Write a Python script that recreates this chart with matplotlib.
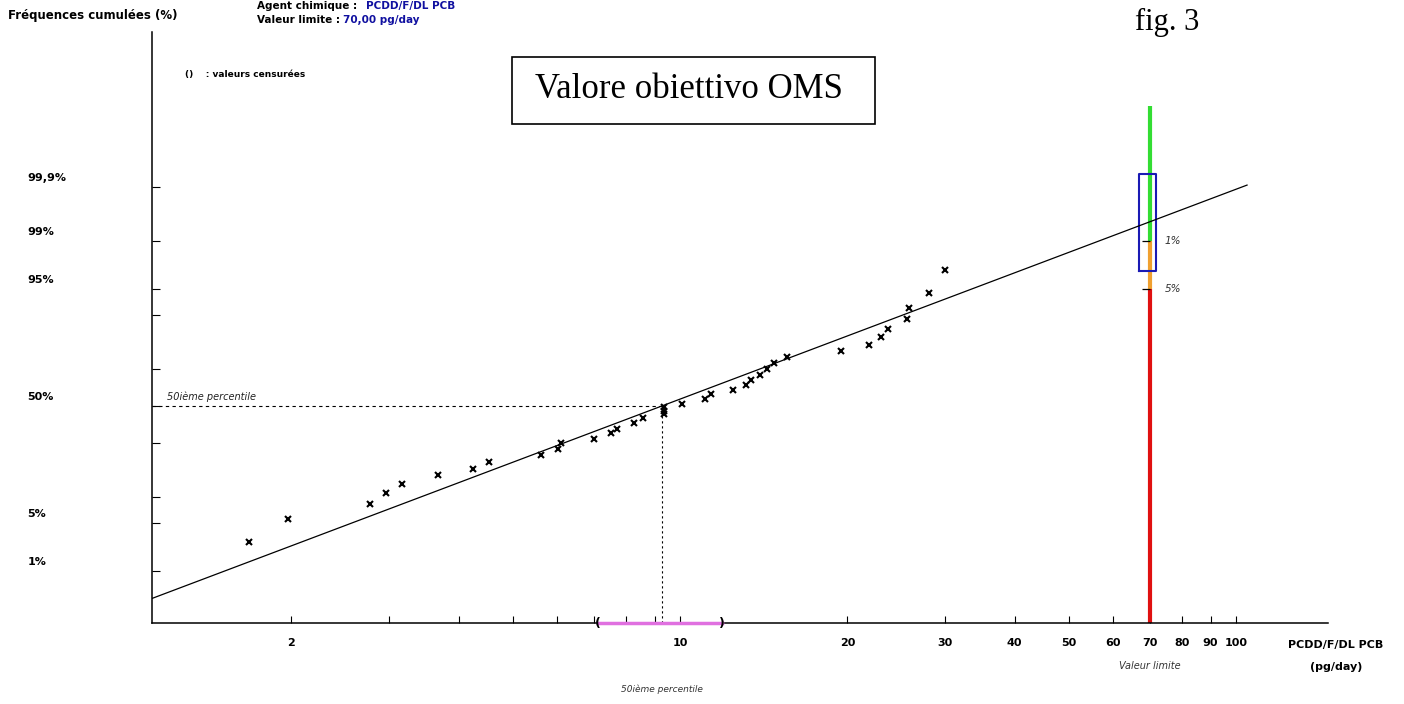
import matplotlib
matplotlib.use("Agg")
import matplotlib.pyplot as plt
import matplotlib.transforms as mtransforms
from matplotlib.patches import Rectangle
from matplotlib.ticker import NullLocator
import numpy as np
from statistics import NormalDist

# measured exposures (pg/day), sorted
conc = [1.68, 1.975, 2.77, 2.96, 3.16, 3.67, 4.24, 4.53, 5.62, 6.03, 6.11, 7.01,
        7.51, 7.70, 8.28, 8.59, 9.36, 9.36, 9.36, 10.08, 11.08, 11.37, 12.44,
        13.13, 13.40, 13.93, 14.36, 14.74, 15.56, 19.45, 21.88, 22.97, 23.66,
        25.60, 25.78, 28.05, 29.93]
# cumulative frequencies (%)
freq = [2.8, 5.5, 8.3, 11.0, 13.5, 16.4, 18.7, 21.5, 24.5, 27.1, 29.9, 32.1,
        35.0, 37.4, 40.4, 43.3, 45.5, 47.4, 49.3, 51.1, 53.9, 56.7, 59.1, 61.8,
        64.5, 67.0, 70.1, 72.8, 75.4, 78.0, 80.6, 83.5, 86.1, 88.9, 91.7, 94.4,
        97.2]

# fitted lognormal
gm = 9.28
gsd = 2.178
fit_range = [1.123, 104.7]

# 50th percentile confidence interval
ci_50 = [7.12, 11.9]

# limit value and its colour bands (%)
limit = 70
band_edges = [0.111, 95, 99, 99.9988]
band_colors = ["#e01010", "#f0a030", "#33dd33"]
# exceedance box
box_x = [66.8, 71.8]
box_y = [97.18, 99.946]

xticks = [2, 3, 4, 5, 6, 7, 8, 9, 10, 20, 30, 40, 50, 60, 70, 80, 90, 100]
xlabels = ["2", "", "", "", "", "", "", "", "10", "20", "30", "40", "50",
           "60", "70", "80", "90", "100"]
yticks = [1, 5, 10, 30, 50, 70, 90, 95, 99, 99.9]
ylab_vals = [99.9, 99, 95, 50, 5, 1]
ylab_text = ["99,9%", "99%", "95%", "50%", "5%", "1%"]

nd = NormalDist()


def fwd(p):
    p = np.clip(np.asarray(p, dtype=float), 1e-10, 100 - 1e-10)
    return np.vectorize(lambda v: nd.inv_cdf(v / 100.0), otypes=[float])(p)


def inv(z):
    z = np.asarray(z, dtype=float)
    return np.vectorize(lambda v: nd.cdf(v) * 100.0, otypes=[float])(z)


fig = plt.figure(figsize=(14.04, 7.04), dpi=100)
ax = fig.add_axes([152 / 1404, 81 / 704, 1176 / 1404, 591 / 704])
ax.set_xscale("log")
ax.set_yscale("function", functions=(fwd, inv))
ax.set_xlim(1.123, 146.4)
ax.set_ylim(0.111, 99.9999932)

for s in ["top", "right"]:
    ax.spines[s].set_visible(False)
for s in ["left", "bottom"]:
    ax.spines[s].set_linewidth(1.1)

ax.set_xticks(xticks, xlabels)
ax.xaxis.set_minor_locator(NullLocator())
ax.tick_params(axis="x", direction="in", length=5, width=0.8, pad=11,
               labelsize=8)
for lab in ax.get_xticklabels():
    lab.set_fontweight("bold")
ax.set_yticks(yticks, [""] * len(yticks))
ax.yaxis.set_minor_locator(NullLocator())
ax.tick_params(axis="y", direction="in", length=6, width=0.8)

ytrans = mtransforms.offset_copy(ax.get_yaxis_transform(), fig=fig, x=0, y=9,
                                 units="dots")
for v, t in zip(ylab_vals, ylab_text):
    ax.text(-0.106, v, t, transform=ytrans, ha="left", va="center",
            fontsize=8, fontweight="bold")

# colored limit line
for i in range(3):
    ax.plot([limit, limit], [band_edges[i], band_edges[i + 1]],
            color=band_colors[i], lw=3, solid_capstyle="butt", zorder=2,
            clip_on=False)
ax.plot([limit, limit], [99, 95], ls="none", marker=0, ms=6, mew=0.9,
        color="black", zorder=3)
ax.plot([box_x[0], box_x[1], box_x[1], box_x[0], box_x[0]],
        [box_y[0], box_y[0], box_y[1], box_y[1], box_y[0]],
        color="#1a1ab4", lw=1.5, zorder=4)
ptrans = mtransforms.offset_copy(ax.transData, fig=fig, x=15, y=0, units="dots")
ax.text(limit, 99, "1%", transform=ptrans, ha="left", va="center",
        fontsize=7.5, style="italic", color="#333333")
ax.text(limit, 95, "5%", transform=ptrans, ha="left", va="center",
        fontsize=7.5, style="italic", color="#333333")

# fitted line
fx = np.array(fit_range)
fz = np.log10(fx / gm) / np.log10(gsd)
ax.plot(fx, inv(fz), color="black", lw=0.9, zorder=5)

# data
ax.plot(conc, freq, ls="none", marker="x", ms=4, mew=1.5, color="black",
        zorder=6)

# 50th percentile guides
ax.plot([1.123, gm], [50, 50], color="black", lw=0.8, ls=(0, (3, 3)))
ax.plot([gm, gm], [0.111, 50], color="black", lw=0.8, ls=(0, (2, 2.5)))
ltrans = mtransforms.offset_copy(ax.get_yaxis_transform(), fig=fig, x=15,
                                 y=9, units="dots")
ax.text(0, 50, "50ième percentile", transform=ltrans, ha="left",
        va="center", fontsize=7, style="italic", color="#222222")

# CI bar on the x axis
xtr = ax.get_xaxis_transform()
ax.plot(ci_50, [0, 0], transform=xtr, color="#e070e0", lw=2.5, clip_on=False,
        zorder=3)
ax.text(ci_50[0], 0, "(", transform=xtr, ha="center", va="center",
        fontsize=9, fontweight="bold")
ax.text(ci_50[1], 0, ")", transform=xtr, ha="center", va="center",
        fontsize=9, fontweight="bold")

# bottom texts
btr = mtransforms.blended_transform_factory(ax.transData, fig.transFigure)
ax.text(limit, 1 - 666 / 704, "Valeur limite", transform=btr, ha="center",
        va="center", fontsize=7, style="italic", color="#333333")
ax.text(gm, 1 - 689 / 704, "50ième percentile", transform=btr, ha="center",
        va="center", fontsize=6.5, style="italic", color="#333333")
fig.text(1336 / 1404, 1 - 645 / 704, "PCDD/F/DL PCB", ha="center",
         va="center", fontsize=8, fontweight="bold")
fig.text(1336 / 1404, 1 - 667 / 704, "(pg/day)", ha="center", va="center",
         fontsize=8, fontweight="bold")

# header texts
fig.text(8 / 1404, 1 - 16 / 704, "Fréquences cumulées (%)", ha="left",
         va="center", fontsize=8.5, fontweight="bold")
fig.text(257 / 1404, 1 - 1 / 704, "Agent chimique : ", ha="left",
         va="top", fontsize=7.5, fontweight="bold")
fig.text(366 / 1404, 1 - 1 / 704, "PCDD/F/DL PCB", ha="left", va="top",
         fontsize=7.5, fontweight="bold", color="#1010a0")
fig.text(257 / 1404, 1 - 20 / 704, "Valeur limite : ", ha="left",
         va="center", fontsize=7.5, fontweight="bold")
fig.text(343 / 1404, 1 - 20 / 704, "70,00 pg/day", ha="left", va="center",
         fontsize=7.5, fontweight="bold", color="#1010a0")
fig.text(185 / 1404, 1 - 75 / 704, "()    : valeurs censurées", ha="left",
         va="center", fontsize=6.5, fontweight="bold")

# annotation box
fig.patches.append(Rectangle((512 / 1404, 1 - 124 / 704), 363 / 1404,
                             67 / 704, transform=fig.transFigure,
                             fill=False, edgecolor="black", lw=1.2))
fig.text(535 / 1404, 1 - 89 / 704, "Valore obiettivo OMS", ha="left",
         va="center", fontsize=25, family="Liberation Serif")
fig.text(1167 / 1404, 1 - 22 / 704, "fig. 3", ha="center", va="center",
         fontsize=22, family="Liberation Serif")

fig.savefig("out.png", dpi=100, facecolor="white")
